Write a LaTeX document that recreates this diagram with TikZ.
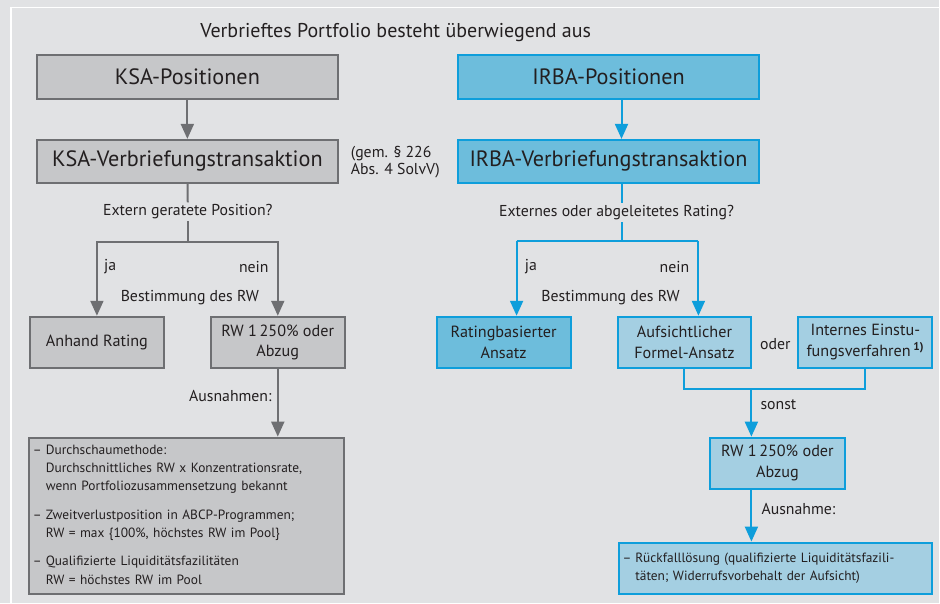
\documentclass[tikz,border=0pt]{standalone}
\usepackage{fontspec}
\setmainfont{PT Sans}
\usetikzlibrary{arrows.meta}
\definecolor{bggray}{HTML}{E1E2E4}
\definecolor{boxgray}{HTML}{C6C7C9}
\definecolor{linegray}{HTML}{6E6F72}
\definecolor{blueline}{HTML}{0E9EDB}
\definecolor{bluedark}{HTML}{6DBDDC}
\definecolor{bluelight}{HTML}{A4CFE2}
\definecolor{textgray}{HTML}{231F20}
\tikzset{
	grbox/.style={draw=linegray, fill=boxgray, line width=2pt, inner sep=0pt, align=center, text=textgray},
	blbox/.style={draw=blueline, fill=bluedark, line width=2pt, inner sep=0pt, align=center, text=textgray},
	ltbox/.style={draw=blueline, fill=bluelight, line width=2pt, inner sep=0pt, align=center, text=textgray},
	grarr/.style={draw=linegray, line width=2pt, -{Triangle[length=15pt,width=13pt]}},
	blarr/.style={draw=blueline, line width=2pt, -{Triangle[length=15pt,width=13pt]}},
	grline/.style={draw=linegray, line width=2pt},
	blline/.style={draw=blueline, line width=2pt},
	lbl/.style={text=textgray, font=\fontsize{15.8}{18}\selectfont, inner sep=1pt},
	qlbl/.style={lbl, fill=bggray, inner sep=2pt},
}
\newcommand{\bigfont}{\fontsize{22.2}{26}\selectfont}
\newcommand{\midfont}{\fontsize{16.2}{20.5}\selectfont}
\newcommand{\smfont}{\fontsize{13.4}{18.3}\selectfont}
\begin{document}
\begin{tikzpicture}[x=1pt, y=-1pt]
			%%%%% START %%%%%
			\fill[bggray] (0, 0) rectangle (940, 603);
			\draw[white, line width=1.5pt] (940, 7.5) -- (11, 7.5) -- (11, 603);
			\useasboundingbox (0, 0) rectangle (940, 603);
			
			\node[lbl, font=\fontsize{20}{22}\selectfont] (title) at (396, 33) {Verbrieftes Portfolio besteht überwiegend aus};
			
			% KSA side
			\node[grbox, minimum width=301pt, minimum height=44pt, font=\bigfont] (ksapos) at (187.5, 77) {KSA-Positionen};
			\node[grbox, minimum width=301pt, minimum height=43pt, font=\bigfont] (ksaverb) at (187.5, 161.5) {KSA-Verbriefungstransaktion};
			\node[lbl, anchor=west, align=left, font=\fontsize{15.8}{17.5}\selectfont] (gem) at (350, 162) {(gem. § 226\\Abs. 4 SolvV)};
			\draw[grarr] (ksapos) -- (ksaverb);
			
			\node[qlbl] (kq) at (188, 212) {Extern geratete Position?};
			\coordinate (kbr) at (188, 242);
			
			\node[grbox, minimum width=134pt, minimum height=51pt, font=\midfont] (anhand) at (97, 342.5) {Anhand Rating};
			\node[grbox, minimum width=134pt, minimum height=51pt, font=\midfont] (rwksa) at (278, 342.5) {RW 1\,250\% oder\\Abzug};
			
			\draw[grline] (ksaverb) -- (kq);
			\draw[grarr] (kq) -- (kbr) -| (anhand);
			\draw[grarr] (kbr) -| (rwksa);
			\node[lbl, anchor=west] (kja) at (103, 267) {ja};
			\node[lbl, anchor=east] (knein) at (270, 267) {nein};
			\node[lbl] (kbest) at (190, 298) {Bestimmung des RW};
			
			\node[grbox, minimum width=315pt, minimum height=156pt, text width=307pt, align=left, font=\smfont] (ksaaus) at (186.5, 516) {%
				\begin{tabular}{@{}l@{\hspace{4pt}}l@{}}
				– & Durchschaumethode:\\
				  & Durchschnittliches RW x Konzentrationsrate,\\
				  & wenn Portfoliozusammensetzung bekannt\\[10pt]
				– & Zweitverlustposition in ABCP-Programmen;\\
				  & RW = max \{100\%, höchstes RW im Pool\}\\[10pt]
				– & Qualifizierte Liquiditätsfazilitäten\\
				  & RW = höchstes RW im Pool
				\end{tabular}};
			\draw[grarr] (rwksa) -- (rwksa |- ksaaus.north);
			\node[lbl, anchor=east] (kausn) at (273, 396) {Ausnahmen:};
			
			% IRBA side
			\node[blbox, minimum width=302pt, minimum height=44pt, font=\bigfont] (irbapos) at (609, 77) {IRBA-Positionen};
			\node[blbox, minimum width=302pt, minimum height=43pt, font=\bigfont] (irbaverb) at (609, 161.5) {IRBA-Verbriefungstransaktion};
			\coordinate (ibr) at (622, 241);
			\draw[blarr] (ibr |- irbapos.south) -- (ibr |- irbaverb.north);
			
			\node[qlbl] (iq) at (617, 213) {Externes oder abgeleitetes Rating?};
			\coordinate (ija) at (517, 241);
			\coordinate (inein) at (699, 241);
			
			\node[blbox, minimum width=134pt, minimum height=51pt, font=\midfont] (ratingbas) at (504, 342.5) {Ratingbasierter\\Ansatz};
			\node[ltbox, minimum width=134pt, minimum height=51pt, font=\midfont] (aufsicht) at (685, 342.5) {Aufsichtlicher\\Formel-Ansatz};
			\node[ltbox, minimum width=134pt, minimum height=51pt, font=\midfont] (intern) at (866, 342.5) {Internes Einstu-\\fungsverfahren\,\textsuperscript{\textbf{1)}}};
			\node[lbl] (oder) at (776, 344) {oder};
			
			\draw[blline] (ibr |- irbaverb.south) -- (ibr |- iq.north);
			\draw[blline] (ibr |- iq.south) -- (ibr);
			\draw[blline] (ija) -- (inein);
			\draw[blarr] (ija) -- (ija |- ratingbas.north);
			\draw[blarr] (inein) -- (inein |- aufsicht.north);
			\node[lbl, anchor=west] (ijalbl) at (524, 267) {ja};
			\node[lbl, anchor=east] (ineinlbl) at (691, 267) {nein};
			\node[lbl] (ibest) at (611, 298) {Bestimmung des RW};
			
			\node[ltbox, minimum width=135pt, minimum height=51pt, font=\midfont] (rwirba) at (778, 463.5) {RW 1\,250\% oder\\Abzug};
			\coordinate (ibr2) at (752, 389.5);
			\draw[blline] (aufsicht) |- (ibr2) -| (intern);
			\draw[blarr] (ibr2) -- (ibr2 |- rwirba.north);
			\node[lbl, anchor=west] (sonst) at (760, 405) {sonst};
			
			\node[ltbox, minimum width=314pt, minimum height=51pt, text width=306pt, align=left, font=\smfont] (rueckfall) at (776, 568.5) {%
				\begin{tabular}{@{}l@{\hspace{4pt}}l@{}}
				– & Rückfalllösung (qualifizierte Liquiditätsfazili-\\
				  & täten; Widerrufsvorbehalt der Aufsicht)
				\end{tabular}};
			\draw[blarr] (ibr2 |- rwirba.south) -- (ibr2 |- rueckfall.north);
			\node[lbl, anchor=west] (iausn) at (761, 509) {Ausnahme:};
			%%%%% END %%%%%
\end{tikzpicture}
\end{document}
